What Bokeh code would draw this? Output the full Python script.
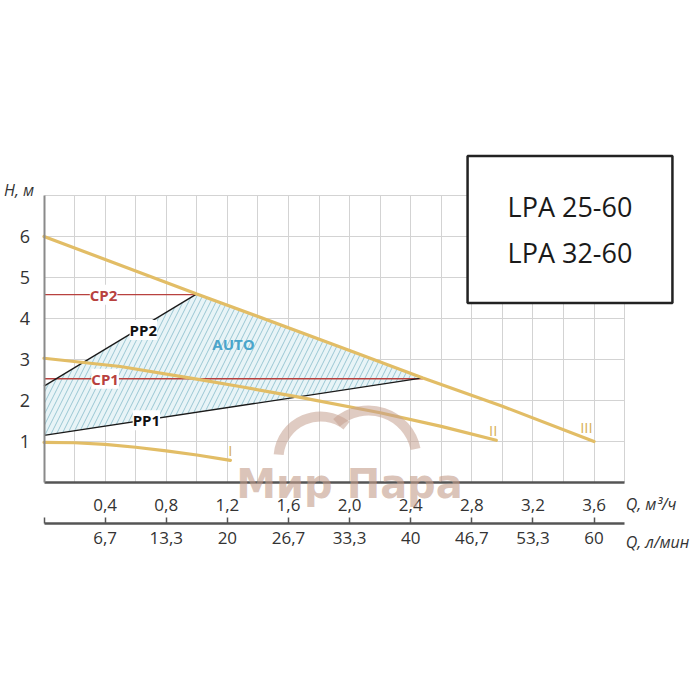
from bokeh.plotting import figure
from bokeh.models import Range1d, LinearAxis, FixedTicker, Label
from bokeh.embed import file_html
from bokeh.resources import INLINE

# ---------------- data ----------------
q_III = [0.0, 1.0, 2.0, 2.48, 3.0, 3.6]
h_III = [6.0, 4.6, 3.22, 2.55, 1.86, 1.0]

q_II = [0.0, 0.5, 1.0, 1.3, 1.66, 2.2, 2.6, 2.96]
h_II = [3.03, 2.83, 2.52, 2.33, 2.09, 1.70, 1.37, 1.03]

q_I = [0.0, 0.2, 0.4, 0.6, 0.8, 1.0, 1.22]
h_I = [0.98, 0.97, 0.93, 0.86, 0.77, 0.67, 0.54]

q_PP1 = [0.0, 2.48]
h_PP1 = [1.15, 2.55]
q_PP2 = [0.0, 1.0]
h_PP2 = [2.35, 4.6]
q_CP1 = [0.0, 2.48]
h_CP1 = [2.53, 2.53]
q_CP2 = [0.0, 1.0]
h_CP2 = [4.58, 4.58]

auto_q = [0.0, 2.48, 1.0, 0.0]
auto_h = [1.15, 2.55, 4.6, 2.35]

q_ticks = [0.4, 0.8, 1.2, 1.6, 2.0, 2.4, 2.8, 3.2, 3.6]
q_tick_labels = ["0,4", "0,8", "1,2", "1,6", "2,0", "2,4", "2,8", "3,2", "3,6"]
lmin_tick_labels = ["6,7", "13,3", "20", "26,7", "33,3", "40", "46,7", "53,3", "60"]
h_ticks = [1, 2, 3, 4, 5, 6]
grid_q = [0.2, 0.4, 0.6, 0.8, 1.0, 1.2, 1.4, 1.6, 1.8, 2.0, 2.2, 2.4, 2.6, 2.8,
          3.0, 3.2, 3.4, 3.6, 3.8]
grid_h = [1, 2, 3, 4, 5, 6, 7]

Q_MAX = 3.8
H_MAX = 7

# ---------------- layout constants ----------------
W, H = 700, 580
X0, SX = 43.5, 152.8      # pixel of Q=0, pixels per m3/h
Y0, SY = 482.0, 41.0      # pixel of H=0, pixels per m
x_start, x_end = -X0 / SX, (W - X0) / SX
y_start, y_end = -(H - Y0) / SY, Y0 / SY
L_PER_M3H = 1000 / 60

FONT = "Open Sans"
GOLD = "#e2bd66"
RED = "#b8413f"
TXT = "#333333"

p = figure(width=W, height=H, x_range=Range1d(x_start, x_end),
           y_range=Range1d(y_start, y_end),
           output_backend="svg", toolbar_location=None, min_border=0)
p.outline_line_color = None
p.extra_x_ranges = {"lmin": Range1d(x_start * L_PER_M3H, x_end * L_PER_M3H)}

# grid
p.xgrid.ticker = FixedTicker(ticks=grid_q)
p.ygrid.ticker = FixedTicker(ticks=grid_h)
p.xgrid.cross_bounds = (0, H_MAX)
p.ygrid.cross_bounds = (0, Q_MAX)
p.grid.grid_line_color = "#d3d3d3"
p.grid.grid_line_width = 1

# primary x axis (m3/h)
xa = p.xaxis[0]
xa.fixed_location = 0
xa.bounds = (0, Q_MAX)
xa.ticker = FixedTicker(ticks=q_ticks)
xa.major_label_overrides = dict(zip(q_ticks, q_tick_labels))
xa.major_tick_line_color = None
xa.minor_tick_line_color = None
xa.axis_line_color = "#555555"
xa.axis_line_width = 2.5
xa.major_label_text_font = FONT
xa.major_label_text_font_size = "17px"
xa.major_label_text_color = TXT
xa.major_label_standoff = 10

# y axis
ya = p.yaxis[0]
ya.fixed_location = 0
ya.bounds = (0, H_MAX)
ya.ticker = FixedTicker(ticks=h_ticks)
ya.major_tick_line_color = None
ya.minor_tick_line_color = None
ya.axis_line_color = "#8a8a8a"
ya.axis_line_width = 2
ya.major_label_text_font = FONT
ya.major_label_text_font_size = "18px"
ya.major_label_text_color = TXT
ya.major_label_standoff = 8

# secondary x axis (l/min)
lmin_ticks = [q * L_PER_M3H for q in q_ticks]
ax2 = LinearAxis(x_range_name="lmin", ticker=FixedTicker(ticks=[0] + lmin_ticks))
ax2.fixed_location = -1.0
ax2.bounds = (0, Q_MAX * L_PER_M3H)
ax2.major_label_overrides = {0: "", **dict(zip(lmin_ticks, lmin_tick_labels))}
ax2.major_tick_in = 6
ax2.major_tick_out = 0
ax2.major_tick_line_color = "#555555"
ax2.major_tick_line_width = 1.5
ax2.minor_tick_line_color = None
ax2.axis_line_color = "#555555"
ax2.axis_line_width = 2.5
ax2.major_label_text_font = FONT
ax2.major_label_text_font_size = "17px"
ax2.major_label_text_color = TXT
ax2.major_label_standoff = 8
p.add_layout(ax2, "below")

# AUTO zone
p.patch(auto_q, auto_h, fill_color="#e8f4f7", line_color=None,
        hatch_pattern="/", hatch_color="#7ab4c4", hatch_scale=11,
        hatch_weight=0.8, hatch_alpha=0.9)

# control lines
p.line(q_CP2, h_CP2, line_color=RED, line_width=1.3)
p.line(q_CP1, h_CP1, line_color=RED, line_width=1.3)
p.line(q_PP2, h_PP2, line_color="#1a1a1a", line_width=1.3)
p.line(q_PP1, h_PP1, line_color="#1a1a1a", line_width=1.3)

# speed curves
for qs, hs in [(q_I, h_I), (q_II, h_II), (q_III, h_III)]:
    p.line(qs, hs, line_color=GOLD, line_width=3.2, line_cap="round")

# labels on lines
def lab(x, y, text, color, bg=True, size="15px", style="bold"):
    p.add_layout(Label(x=x, y=y, text=text, text_color=color,
                       text_font=FONT, text_font_size=size,
                       text_font_style=style, text_align="center",
                       text_baseline="middle",
                       background_fill_color="white" if bg else None))

lab(0.39, 4.58, "CP2", RED)
lab(0.40, 2.53, "CP1", RED)
lab(0.65, 3.72, "PP2", "#111111")
lab(0.67, 1.52, "PP1", "#111111")
lab(1.24, 3.37, "AUTO", "#4aa5cb", bg=False)
lab(1.22, 0.79, "I", "#d8b15a", bg=False, style="normal")
lab(2.94, 1.28, "II", "#d8b15a", bg=False, style="normal")
lab(3.55, 1.35, "III", "#d8b15a", bg=False, style="normal")

# axis unit labels
p.add_layout(Label(x=Q_MAX, y=-0.52, x_offset=1, text="Q, м³/ч", text_font=FONT,
                   text_font_size="16px", text_font_style="italic", text_color=TXT,
                   text_align="left", text_baseline="middle"))
p.add_layout(Label(x=Q_MAX, y=-1.44, x_offset=1, text="Q, л/мин", text_font=FONT,
                   text_font_size="16px", text_font_style="italic", text_color=TXT,
                   text_align="left", text_baseline="middle"))
p.add_layout(Label(x=0, y=H_MAX, x_offset=-40, y_offset=6, text="H, м", text_font=FONT,
                   text_font_size="16px", text_font_style="italic", text_color=TXT,
                   text_align="left", text_baseline="middle"))

# model box
p.add_layout(Label(x=(569.5 - X0) / SX, y=(Y0 - 229) / SY, text="LPA 25-60\nLPA 32-60",
                   text_font=FONT, text_font_size="27px", text_color="#1a1a1a",
                   text_align="center", text_baseline="middle", text_line_height=1.24,
                   background_fill_color="white", border_line_color="#222222",
                   border_line_width=2.5,
                   padding=dict(left=40, right=40, top=32, bottom=32)))

# watermark
p.arc(x=[(320 - X0) / SX, (368 - X0) / SX], y=[(Y0 - 458) / SY, (Y0 - 458) / SY],
      radius=[42, 48], radius_units="screen",
      start_angle=[0.9, 0.2], end_angle=[3.05, 2.3], line_color="#c4a090",
      line_width=10, line_alpha=0.55)
p.add_layout(Label(x=(349 - X0) / SX, y=(Y0 - 483) / SY, text="Мир Пара",
                   text_font="DejaVu Sans", text_font_size="40px",
                   text_font_style="bold", text_color="#c39c8a",
                   text_alpha=0.6, text_align="center", text_baseline="alphabetic"))

open("out.html", "w").write(file_html(p, INLINE))
